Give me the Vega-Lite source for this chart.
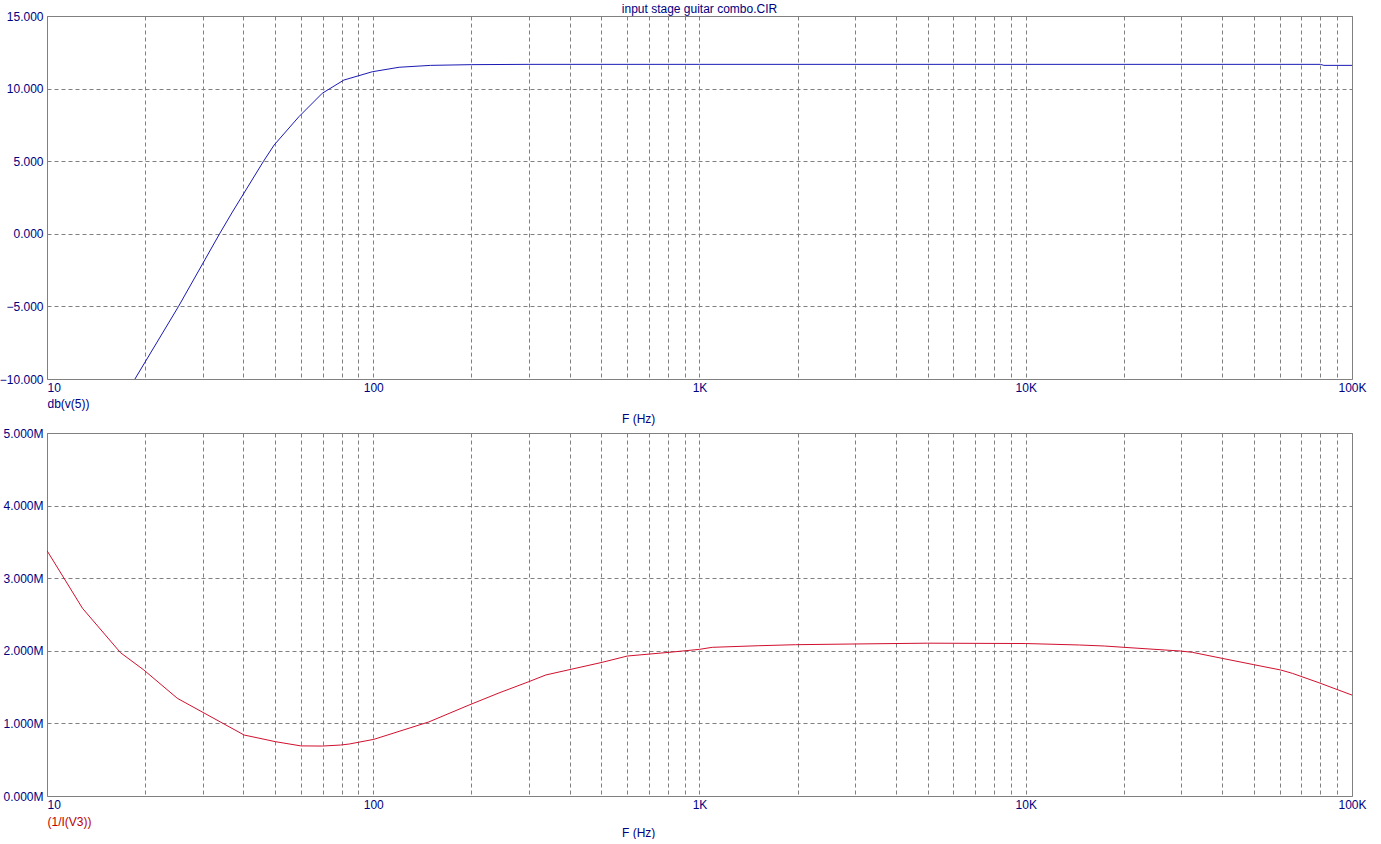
{
  "$schema": "https://vega.github.io/schema/vega-lite/v6.json",
  "background": "white",
  "padding": {"left": -2, "top": 2, "right": 10, "bottom": 0},
  "config": {
    "font": "Liberation Sans",
    "view": {"stroke": "#808080", "strokeWidth": 1},
    "axis": {
      "labelFont": "Liberation Sans", "labelFontSize": 12, "labelColor": "#000080",
      "grid": true, "gridColor": "#808080", "gridDash": [4, 3], "gridWidth": 1, "gridOpacity": 1,
      "domain": false, "ticks": false,
      "titleFont": "Liberation Sans", "titleFontSize": 12, "titleFontWeight": "normal", "titleColor": "#000080"
    },
    "title": {"font": "Liberation Sans", "fontSize": 12, "fontWeight": "normal", "color": "#000080"},
    "concat": {"spacing": 2}
  },
  "title": {"text": "F (Hz)", "orient": "bottom", "anchor": "start", "frame": "group", "dx": 575, "offset": 0},
  "vconcat": [
    {
      "width": 1305, "height": 363,
      "title": {"text": "input stage guitar combo.CIR", "anchor": "middle", "frame": "group", "offset": -6},
      "data": {"values": [
        {"f": 18.6, "v": -10}, {"f": 25.3, "v": -5}, {"f": 33.8, "v": 0}, {"f": 37, "v": 1.5},
        {"f": 46.1, "v": 5}, {"f": 49.7, "v": 6.12}, {"f": 59.2, "v": 8.07}, {"f": 69.8, "v": 9.68},
        {"f": 81.3, "v": 10.59}, {"f": 99.3, "v": 11.16}, {"f": 120, "v": 11.47}, {"f": 150, "v": 11.6},
        {"f": 200, "v": 11.65}, {"f": 300, "v": 11.67}, {"f": 1000, "v": 11.67}, {"f": 10000, "v": 11.67},
        {"f": 80000, "v": 11.67}, {"f": 82000, "v": 11.6}, {"f": 100000, "v": 11.6}
      ]},
      "mark": {"type": "line", "color": "#1a1ab4", "strokeWidth": 1, "clip": true},
      "encoding": {
        "x": {
          "field": "f", "type": "quantitative",
          "scale": {"type": "log", "domain": [10, 100000], "nice": false},
          "axis": {
            "values": [10,20,30,40,50,60,70,80,90,100,200,300,400,500,600,700,800,900,1000,2000,3000,4000,5000,6000,7000,8000,9000,10000,20000,30000,40000,50000,60000,70000,80000,90000,100000],
            "labelExpr": "datum.value == 10 ? '10' : datum.value == 100 ? '100' : datum.value == 1000 ? '1K' : datum.value == 10000 ? '10K' : datum.value == 100000 ? '100K' : ''",
            "labelAlign": {"condition": {"test": "datum.value == 10", "value": "left"}, "value": "center"},
            "labelOverlap": false, "labelBound": false, "labelFlush": false, "labelPadding": 3,
            "title": "db(v(5))", "titleAnchor": "start", "titleAlign": "left", "titleX": 0, "titleY": 24, "titleBaseline": "middle"
          }
        },
        "y": {
          "field": "v", "type": "quantitative",
          "scale": {"domain": [-10, 15], "nice": false, "zero": false},
          "axis": {"values": [-10, -5, 0, 5, 10, 15], "labelExpr": "format(datum.value, '.3f')", "title": null, "labelPadding": 4}
        }
      }
    },
    {
      "width": 1305, "height": 363,
      "title": {"text": "F (Hz)", "anchor": "start", "frame": "group", "dx": 575, "offset": 1},
      "data": {"values": [
        {"f": 10, "r": 3380000}, {"f": 12.85, "r": 2585000}, {"f": 16.8, "r": 1974000}, {"f": 19.8, "r": 1736000},
        {"f": 25.1, "r": 1345000}, {"f": 40.2, "r": 840000}, {"f": 50.2, "r": 748000}, {"f": 60, "r": 690000},
        {"f": 69.8, "r": 688000}, {"f": 79.4, "r": 702000}, {"f": 84.4, "r": 716000}, {"f": 100.4, "r": 780000},
        {"f": 148, "r": 1020000}, {"f": 196.6, "r": 1253000}, {"f": 243, "r": 1420000}, {"f": 300, "r": 1575000},
        {"f": 338, "r": 1667000}, {"f": 503, "r": 1841000}, {"f": 601, "r": 1928000}, {"f": 807, "r": 1979000},
        {"f": 1000, "r": 2020000}, {"f": 1094, "r": 2048000}, {"f": 1520, "r": 2070000}, {"f": 1970, "r": 2084000},
        {"f": 3010, "r": 2094000}, {"f": 5000, "r": 2105000}, {"f": 10000, "r": 2100000}, {"f": 14600, "r": 2080000},
        {"f": 17400, "r": 2066000}, {"f": 20000, "r": 2048000}, {"f": 29800, "r": 1997000}, {"f": 32400, "r": 1979000},
        {"f": 40000, "r": 1896000}, {"f": 50000, "r": 1809000}, {"f": 60400, "r": 1736000}, {"f": 65600, "r": 1690000},
        {"f": 79200, "r": 1560000}, {"f": 100000, "r": 1390000}
      ]},
      "mark": {"type": "line", "color": "#d0102e", "strokeWidth": 1, "clip": true},
      "encoding": {
        "x": {
          "field": "f", "type": "quantitative",
          "scale": {"type": "log", "domain": [10, 100000], "nice": false},
          "axis": {
            "values": [10,20,30,40,50,60,70,80,90,100,200,300,400,500,600,700,800,900,1000,2000,3000,4000,5000,6000,7000,8000,9000,10000,20000,30000,40000,50000,60000,70000,80000,90000,100000],
            "labelExpr": "datum.value == 10 ? '10' : datum.value == 100 ? '100' : datum.value == 1000 ? '1K' : datum.value == 10000 ? '10K' : datum.value == 100000 ? '100K' : ''",
            "labelAlign": {"condition": {"test": "datum.value == 10", "value": "left"}, "value": "center"},
            "labelOverlap": false, "labelBound": false, "labelFlush": false, "labelPadding": 3,
            "title": "(1/I(V3))", "titleColor": "#c00000", "titleAnchor": "start", "titleAlign": "left", "titleX": 0, "titleY": 25, "titleBaseline": "middle"
          }
        },
        "y": {
          "field": "r", "type": "quantitative",
          "scale": {"domain": [0, 5000000], "nice": false, "zero": false},
          "axis": {"values": [0, 1000000, 2000000, 3000000, 4000000, 5000000], "labelExpr": "format(datum.value / 1000000, '.3f') + 'M'", "title": null, "labelPadding": 4}
        }
      }
    }
  ]
}
